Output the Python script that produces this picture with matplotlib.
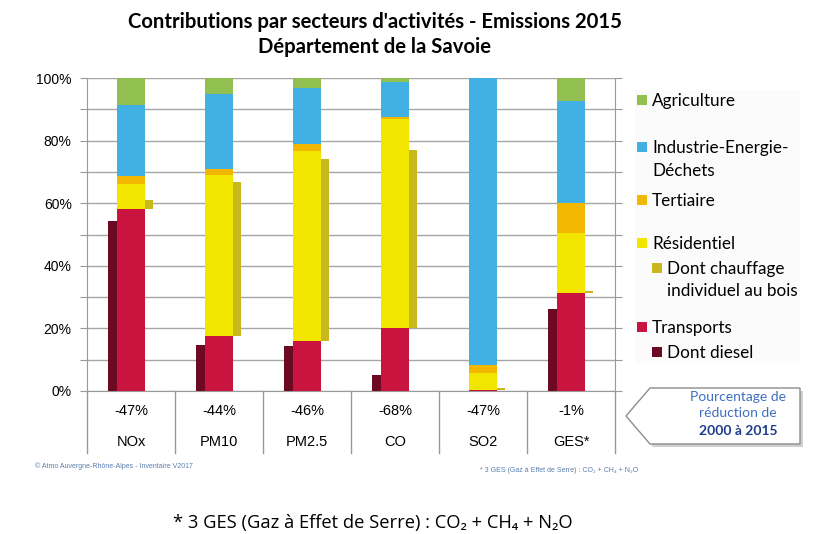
import numpy as np
import matplotlib
matplotlib.use("Agg")
import matplotlib.pyplot as plt
from matplotlib.patches import Rectangle, Polygon
from matplotlib.transforms import blended_transform_factory

# values (% of emissions)
categories = ["NOx", "PM10", "PM2.5", "CO", "SO2", "GES*"]
reductions = ["-47%", "-44%", "-46%", "-68%", "-47%", "-1%"]
transports = [58.1, 17.5, 16.0, 20.0, 0.4, 31.2]
residentiel = [8.1, 51.6, 60.6, 67.0, 5.4, 19.2]
tertiaire = [2.5, 1.9, 2.4, 0.4, 2.4, 9.6]
industrie = [22.8, 24.0, 17.8, 11.2, 91.8, 32.6]
agriculture = [8.5, 5.0, 3.2, 1.4, 0.0, 7.4]
diesel = [54.4, 14.6, 14.4, 5.0, 0.0, 26.2]
bois = [2.9, 49.2, 58.1, 57.0, 0.6, 0.8]

legend_labels = ["Agriculture", "Industrie-Energie-\nDéchets", "Tertiaire", "Résidentiel",
                 "Dont chauffage\nindividuel au bois", "Transports", "Dont diesel"]

c_agri = "#92C050"
c_ind = "#41B0E2"
c_ter = "#F2B700"
c_res = "#F2E600"
c_bois = "#C9B81C"
c_tra = "#C8143F"
c_die = "#6B0A22"

W, H = 816, 534
fig = plt.figure(figsize=(W / 100, H / 100), dpi=100)
ax = fig.add_axes([87 / W, 1 - 391 / H, (615 - 87) / W, (391 - 78) / H])

x = np.arange(len(categories))
bw = 0.32
bottom = np.zeros(len(categories))
for vals, col in [(transports, c_tra), (residentiel, c_res), (tertiaire, c_ter),
                  (industrie, c_ind), (agriculture, c_agri)]:
    ax.bar(x, vals, bw, bottom=bottom, color=col, zorder=3)
    bottom += np.array(vals)

# side bars: diesel (left, from 0) and wood heating (right, from top of transports)
ax.bar(x - bw / 2 - 0.05, diesel, 0.10, color=c_die, zorder=3)
ax.bar(x + bw / 2 + 0.045, bois, 0.09, bottom=transports, color=c_bois, zorder=3)

ax.set_xlim(-0.5, len(categories) - 0.5)
ax.set_ylim(0, 100)
ax.set_yticks(np.arange(0, 101, 10))
ax.set_yticklabels([f"{v}%" if v % 20 == 0 else "" for v in range(0, 101, 10)],
                   fontsize=10, family="Liberation Sans")
ax.set_xticks([])
ax.tick_params(axis="y", length=5, color="#999999", pad=6, right=True)
ax.grid(axis="y", color="#A6A6A6", linewidth=1, zorder=0)
ax.spines["top"].set_visible(False)
for s in ["left", "right", "bottom"]:
    ax.spines[s].set_color("#999999")

# table below the axis
tr = blended_transform_factory(ax.transData, ax.transAxes)
for b in np.arange(-0.5, len(categories), 1.0):
    ax.plot([b, b], [0, -0.198], transform=tr, color="#999999", lw=1, clip_on=False)
for i, (c, r) in enumerate(zip(categories, reductions)):
    ax.text(i, -0.065, r, transform=tr, ha="center", va="center", fontsize=10.5,
            family="Liberation Sans")
    ax.text(i, -0.163, c, transform=tr, ha="center", va="center", fontsize=10.5,
            family="Liberation Sans")

# title
fig.text(375 / W, 1 - 22 / H, "Contributions par secteurs d'activités - Emissions 2015",
         ha="center", va="center", fontsize=14.6, fontweight="bold", family="Lato")
fig.text(375 / W, 1 - 47 / H, "Département de la Savoie",
         ha="center", va="center", fontsize=14.6, fontweight="bold", family="Lato")

# legend
leg_bg = Rectangle((635 / W, 1 - 363 / H), 165 / W, 273 / H, transform=fig.transFigure,
                   facecolor="#FBFBFB", edgecolor="none", zorder=0)
fig.patches.append(leg_bg)
leg_cols = [c_agri, c_ind, c_ter, c_res, c_bois, c_tra, c_die]
leg_y = [100, 147, 200, 243, 268, 327, 352]
leg_x = [637, 637, 637, 637, 652, 637, 652]
for lab, col, ly, lx in zip(legend_labels, leg_cols, leg_y, leg_x):
    fig.patches.append(Rectangle((lx / W, 1 - (ly + 5) / H), 10 / W, 10 / H,
                                 transform=fig.transFigure, facecolor=col, edgecolor="none"))
    fig.text((lx + 15) / W, 1 - (ly - 7) / H, lab, ha="left", va="top", fontsize=12.3,
             family="Lato", linespacing=1.5)

# arrow box
pts = [(626, 416), (650, 388), (800, 388), (800, 444), (650, 444)]
shadow = Polygon([((px + 3) / W, 1 - (py + 3) / H) for px, py in pts], closed=True,
                 transform=fig.transFigure, facecolor="#D0D0D0", edgecolor="none")
box = Polygon([(px / W, 1 - py / H) for px, py in pts], closed=True,
              transform=fig.transFigure, facecolor="white", edgecolor="#8C8C8C", lw=1)
fig.patches.append(shadow)
fig.patches.append(box)
fig.text(738 / W, 1 - 397 / H, "Pourcentage de", ha="center", va="center",
         fontsize=10, family="Lato", color="#3E6FC0")
fig.text(738 / W, 1 - 413 / H, "réduction de", ha="center", va="center",
         fontsize=10, family="Lato", color="#3E6FC0")
fig.text(738 / W, 1 - 431 / H, "2000 à 2015", ha="center", va="center",
         fontsize=10, family="Lato", fontweight="bold", color="#1F3C8C")

# footnotes
fig.text(35 / W, 1 - 466 / H, "© Atmo Auvergne-Rhône-Alpes - Inventaire V2017",
         ha="left", va="center", fontsize=5, family="Liberation Sans", color="#5A7FB0")
fig.text(480 / W, 1 - 470 / H, "* 3 GES (Gaz à Effet de Serre) : CO₂ + CH₄ + N₂O",
         ha="left", va="center", fontsize=5, family="Liberation Sans", color="#5A7FB0")
fig.text(373 / W, 1 - 523 / H, "* 3 GES (Gaz à Effet de Serre) : CO₂ + CH₄ + N₂O",
         ha="center", va="center", fontsize=13.2, family="Open Sans")

fig.savefig("out.png", dpi=100)
